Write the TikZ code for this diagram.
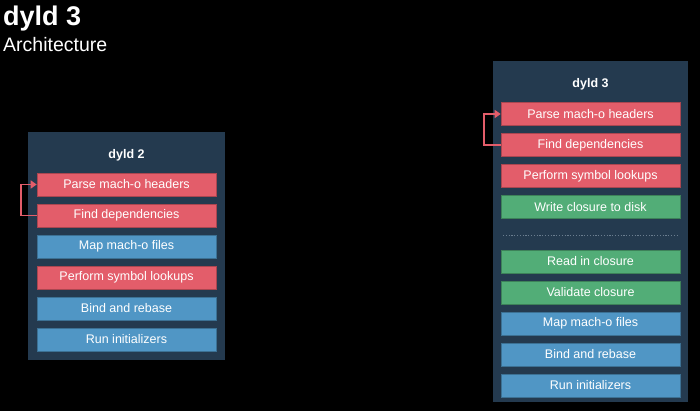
\documentclass[tikz,border=0pt]{standalone}
\usepackage{fontspec}
\setmainfont{Liberation Sans}
\usetikzlibrary{arrows.meta}

\definecolor{panel}{HTML}{243A4F}
\definecolor{stepred}{HTML}{E35D6A}
\definecolor{stepblue}{HTML}{5096C5}
\definecolor{stepgreen}{HTML}{52AD77}
\definecolor{sep}{HTML}{6A7D8F}

\tikzset{
  stepbox/.style={rectangle, fill=#1, draw=#1!75!black, line width=.6pt,
    minimum width=179pt, minimum height=23pt, inner sep=0pt, text=white,
    font=\fontsize{12.5}{15}\selectfont},
  paneltitle/.style={text=white, font=\bfseries\fontsize{12.5}{15}\selectfont},
  loopback/.style={stepred, line width=1.8pt, -{Triangle[length=6pt,width=8pt]}},
}

\begin{document}
\begin{tikzpicture}[x=1pt, y=-1pt]

\fill[black] (0,0) rectangle (700,411);
\useasboundingbox (0,0) rectangle (700,411);

\node[anchor=base west, text=white, font=\bfseries\fontsize{27}{30}\selectfont, inner sep=0pt] (title) at (3,26) {dyld 3};
\node[anchor=base west, text=white, font=\fontsize{19.5}{22}\selectfont, inner sep=0pt] (subtitle) at (3,52) {Architecture};

% dyld 2
\fill[panel] (28,132) rectangle (225,360);
\node[paneltitle] (ltitle) at (126.5,155) {dyld 2};
\foreach \t/\c [count=\i] in {Parse mach-o headers/stepred, Find dependencies/stepred,
    Map mach-o files/stepblue, Perform symbol lookups/stepred,
    Bind and rebase/stepblue, Run initializers/stepblue}
  \node[stepbox=\c] (l\i) at (126.5,153.5+31*\i) {\t};
\draw[loopback] (l2.west) -- ++(-15.5,0) |- (l1.west);

% dyld 3
\fill[panel] (493,61) rectangle (688,402);
\node[paneltitle] (rtitle) at (590.5,84) {dyld 3};
\foreach \t/\c [count=\i] in {Parse mach-o headers/stepred, Find dependencies/stepred,
    Perform symbol lookups/stepred, Write closure to disk/stepgreen}
  \node[stepbox=\c] (r\i) at (590.5,83+31*\i) {\t};
\foreach \t/\c [count=\i] in {Read in closure/stepgreen, Validate closure/stepgreen,
    Map mach-o files/stepblue, Bind and rebase/stepblue, Run initializers/stepblue}
  \node[stepbox=\c] (s\i) at (590.5,230.5+31*\i) {\t};
\draw[sep, line width=.9pt, dash pattern=on 1.2pt off 1.6pt] (503,235) -- (679,235);
\draw[loopback] (r2.west) -- ++(-17,0) |- (r1.west);

\end{tikzpicture}
\end{document}
